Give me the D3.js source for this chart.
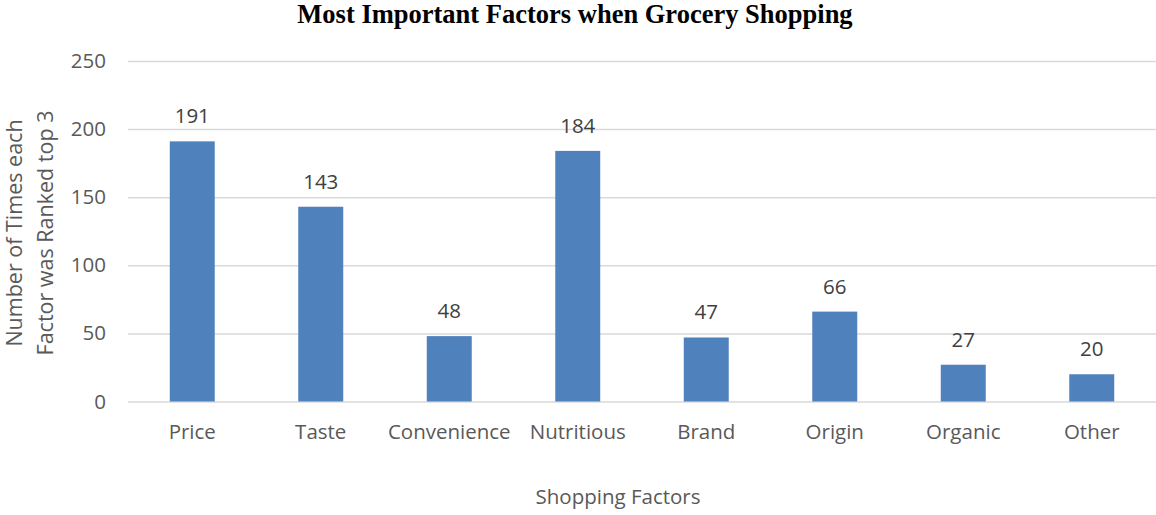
<!DOCTYPE html>
<html>
<head>
<meta charset="utf-8">
<script src="https://cdn.jsdelivr.net/npm/d3@7"></script>
<style>
  html, body { margin: 0; padding: 0; background: #fff; }
  svg { display: block; }
</style>
</head>
<body>
<svg id="chart" width="1156" height="515"></svg>
<script>
// Survey results: how often each factor was ranked in the top 3
const categories = ["Price", "Taste", "Convenience", "Nutritious", "Brand", "Origin", "Organic", "Other"];
const counts = [191, 143, 48, 184, 47, 66, 27, 20];
const yTicks = [0, 50, 100, 150, 200, 250];

const svg = d3.select("#chart");
const plot = { left: 128, right: 1156, top: 61, bottom: 401.5 };
const sansFont = "'Open Sans', 'Noto Sans', sans-serif";
const fontSize = 20.5;

const x = d3.scaleBand()
  .domain(categories)
  .range([plot.left, plot.right])
  .paddingInner(0.65)
  .paddingOuter(0.325);

const y = d3.scaleLinear()
  .domain([0, 250])
  .range([plot.bottom, plot.top]);

// Title
svg.append("text")
  .attr("x", 575).attr("y", 23)
  .attr("text-anchor", "middle")
  .attr("font-family", "'Liberation Serif', 'Times New Roman', serif")
  .attr("font-weight", "bold")
  .attr("font-size", 26.5)
  .attr("fill", "#000")
  .text("Most Important Factors when Grocery Shopping");

// Horizontal gridlines and value ticks
const yAxis = d3.axisLeft(y)
  .tickValues(yTicks)
  .tickSize(-(plot.right - plot.left))
  .tickPadding(22)
  .tickFormat(d3.format("d"));

const gy = svg.append("g")
  .attr("transform", `translate(${plot.left},0)`)
  .call(yAxis);
gy.select(".domain").remove();
gy.selectAll(".tick line").attr("stroke", "#d9d9d9").attr("stroke-width", 1.5);
gy.selectAll(".tick text")
  .attr("font-family", sansFont)
  .attr("font-size", fontSize)
  .attr("fill", "#595959");

// Bars
svg.append("g").selectAll("rect")
  .data(counts)
  .join("rect")
  .attr("x", (d, i) => x(categories[i]))
  .attr("y", d => y(d))
  .attr("width", x.bandwidth())
  .attr("height", d => y(0) - y(d))
  .attr("fill", "#4f81bd");

// Value labels above the bars
svg.append("g").selectAll("text")
  .data(counts)
  .join("text")
  .attr("x", (d, i) => x(categories[i]) + x.bandwidth() / 2)
  .attr("y", d => y(d) - 18)
  .attr("text-anchor", "middle")
  .attr("font-family", sansFont)
  .attr("font-size", fontSize)
  .attr("fill", "#404040")
  .text(d => d);

// Category axis
const gx = svg.append("g")
  .attr("transform", `translate(0,${plot.bottom})`)
  .call(d3.axisBottom(x).tickSize(0).tickPadding(23));
gx.select(".domain").remove();
gx.selectAll(".tick text")
  .attr("font-family", sansFont)
  .attr("font-size", fontSize)
  .attr("fill", "#595959");

// Axis titles
svg.append("text")
  .attr("x", 618).attr("y", 504)
  .attr("text-anchor", "middle")
  .attr("font-family", sansFont)
  .attr("font-size", fontSize)
  .attr("fill", "#595959")
  .text("Shopping Factors");

const yTitle = svg.append("text")
  .attr("transform", "translate(0,233) rotate(-90)")
  .attr("text-anchor", "middle")
  .attr("font-family", sansFont)
  .attr("font-size", 21.5)
  .attr("fill", "#595959");
yTitle.append("tspan").attr("x", 0).attr("y", 22).text("Number of Times each");
yTitle.append("tspan").attr("x", 0).attr("y", 53).text("Factor was Ranked top 3");
</script>
</body>
</html>
